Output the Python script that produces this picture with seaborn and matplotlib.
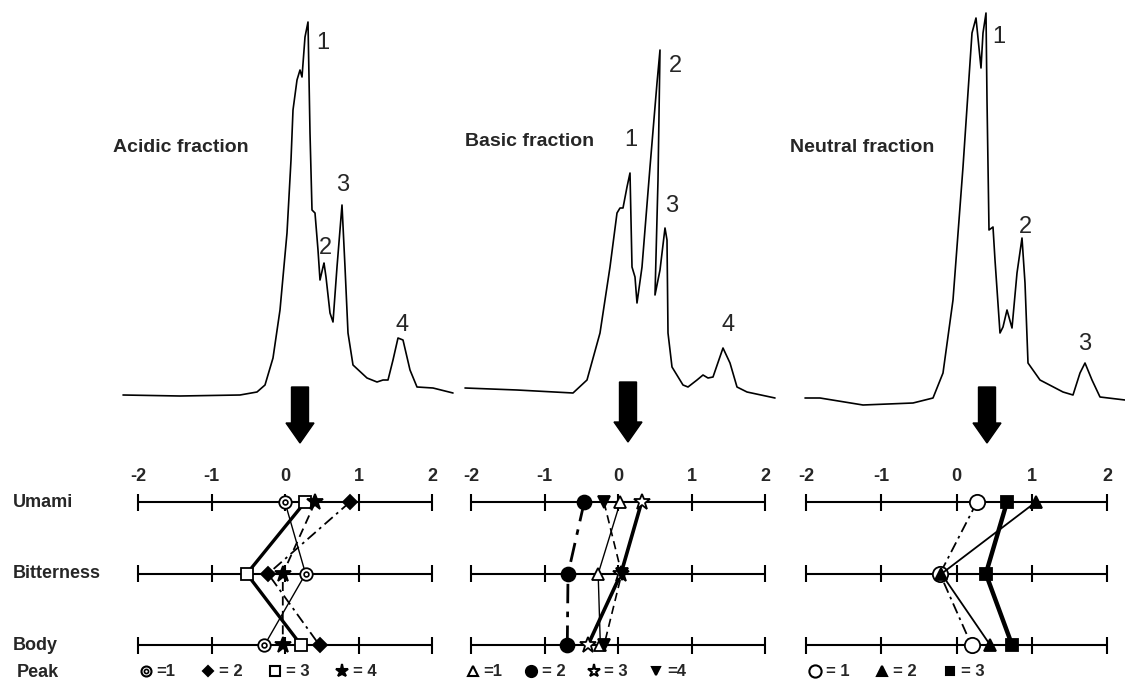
import numpy as np
import pandas as pd
import seaborn as sns
import matplotlib.pyplot as plt
import matplotlib.transforms as mtransforms
from matplotlib.lines import Line2D
from matplotlib.patches import FancyArrow
from matplotlib.legend_handler import HandlerTuple

sns.set_theme(style='white')
plt.rcParams['font.family'] = ['Liberation Sans', 'DejaVu Sans']

W, H = 1125, 681

# chromatogram traces: elution position (arb.) vs detector response (arb.)
acidic_t = [3, 60, 120, 137, 145, 153, 160, 167, 171, 173, 177, 180, 182, 185, 188, 190, 192, 195,
            198, 200, 203, 204, 206, 210, 213, 217, 222, 225, 228, 233, 247, 257, 263, 268, 273, 278,
            283, 290, 297, 313, 333]
acidic_a = [5, 4, 5, 8, 15, 42, 90, 167, 240, 290, 320, 330, 323, 363, 378, 267, 190, 187,
            150, 120, 133, 137, 123, 87, 78, 133, 195, 133, 67, 35, 22, 18, 20, 20, 40, 62,
            60, 30, 13, 12, 7]

basic_t = [5, 57, 113, 127, 140, 150, 157, 160, 163, 167, 170, 172, 175, 177, 182, 190, 197, 200,
           198, 195, 200, 205, 207, 208, 212, 223, 228, 237, 243, 248, 253, 263, 270, 277, 287, 315]
basic_a = [12, 10, 7, 20, 67, 133, 187, 192, 192, 213, 227, 133, 123, 97, 133, 233, 317, 350,
           220, 105, 130, 172, 160, 67, 33, 15, 13, 20, 25, 22, 23, 52, 37, 13, 8, 2]

neutral_t = [10, 25, 68, 118, 138, 148, 158, 168, 177, 181, 186, 188, 191, 192, 194, 198, 200, 205,
             208, 212, 217, 222, 227, 230, 233, 245, 268, 278, 285, 290, 297, 305, 330]
neutral_a = [2, 2, -5, -3, 2, 27, 100, 233, 367, 382, 332, 367, 387, 300, 170, 173, 140, 67,
             73, 90, 72, 127, 162, 117, 37, 20, 8, 5, 27, 37, 20, 3, 0]

acidic_peaks = ['1', '2', '3', '4']
acidic_label_t = [203, 205, 223, 282]
acidic_label_a = [357, 152, 215, 75]
basic_peaks = ['1', '2', '3', '4']
basic_label_t = [171, 215, 212, 268]
basic_label_a = [260, 334, 194, 75]
neutral_peaks = ['1', '2', '3']
neutral_label_t = [204, 230, 290]
neutral_label_a = [363, 173, 56]

# sensory scores per peak (rows: Umami, Bitterness, Body)
attributes = ['Umami', 'Bitterness', 'Body']
acidic_scores = {
    '1': [0.0, 0.28, -0.28],
    '2': [0.88, -0.23, 0.47],
    '3': [0.27, -0.52, 0.22],
    '4': [0.41, -0.03, -0.03],
}
basic_scores = {
    '1': [0.03, -0.27, -0.24],
    '2': [-0.46, -0.68, -0.69],
    '3': [0.32, 0.04, -0.41],
    '4': [-0.19, 0.05, -0.19],
}
neutral_scores = {
    '1': [0.27, -0.22, 0.2],
    '2': [1.05, -0.2, 0.45],
    '3': [0.67, 0.39, 0.74],
}
score_ticks = [-2, -1, 0, 1, 2]

# styles: marker, size, facecolor, linestyle, linewidth
acidic_style = {
    '1': dict(marker='o', ms=9, mfc='white', ls='-', lw=1.0),
    '2': dict(marker='D', ms=7, mfc='black', ls=(0, (6, 2.5, 1.5, 2.5)), lw=1.3),
    '3': dict(marker='s', ms=9, mfc='white', ls='-', lw=2.4),
    '4': dict(marker='*', ms=12, mfc='black', ls=(0, (5, 3)), lw=1.3),
}
basic_style = {
    '1': dict(marker='^', ms=9, mfc='white', ls='-', lw=1.0),
    '2': dict(marker='o', ms=10, mfc='black', ls=(0, (7, 3, 2, 3)), lw=2.0),
    '3': dict(marker='*', ms=12, mfc='white', ls='-', lw=2.6),
    '4': dict(marker='v', ms=8, mfc='black', ls=(0, (5, 3)), lw=1.2),
}
neutral_style = {
    '1': dict(marker='o', ms=11, mfc='white', ls=(0, (6, 2.5, 1.5, 2.5)), lw=1.3),
    '2': dict(marker='^', ms=9, mfc='black', ls='-', lw=1.3),
    '3': dict(marker='s', ms=8, mfc='black', ls='-', lw=3.2),
}
acidic_legend = ['=1', '= 2', '= 3', '= 4']
basic_legend = ['=1', '= 2', '= 3', '=4']
neutral_legend = ['= 1', '= 2', '= 3']

fig = plt.figure(figsize=(W / 100, H / 100), dpi=100)


def px_axes(left, top, width, height):
    return fig.add_axes([left / W, 1 - (top + height) / H, width / W, height / H])


def chromatogram(left, width, t, a, name, name_t, name_a, peaks, lt, la):
    ax = px_axes(left, 0, width, 410)
    sns.lineplot(x=t, y=a, sort=False, estimator=None, color='black', lw=1.2, ax=ax)
    ax.set_xlim(0, width)
    ax.set_ylim(-10, 400)
    ax.axis('off')
    ax.text(name_t, name_a, name, fontsize=14, fontweight='bold', ha='left', va='center')
    for p, x, y in zip(peaks, lt, la):
        ax.text(x, y, p, fontsize=17, ha='center', va='center')
    return ax


def arrow(xc, top, tip):
    fig.patches.append(FancyArrow(xc / W, 1 - top / H, 0, -(tip - top - 20) / H,
                                  width=17 / W, head_width=28 / W, head_length=20 / H,
                                  length_includes_head=False, color='black',
                                  transform=fig.transFigure))


def profile(x_m2, x_p2, scores, styles):
    unit = (x_p2 - x_m2) / 4
    ax = px_axes(x_m2 - 0.3 * unit, 488, 4.6 * unit, 193)
    ax.set_xlim(-2.3, 2.3)
    ax.set_ylim(2.5, -0.2)
    for r in range(len(attributes)):
        ax.hlines(r, -2, 2, color='black', lw=1.5, zorder=1)
        ax.vlines(score_ticks, r - 0.12, r + 0.12, color='black', lw=1.5, zorder=1)
    rows = []
    for p, vals in scores.items():
        for i, v in enumerate(vals):
            rows.append(dict(peak=p, row=i, score=v))
    df = pd.DataFrame(rows)
    handles = []
    for k, (p, st) in enumerate(styles.items()):
        sub = df[df['peak'] == p]
        sns.lineplot(data=sub, x='score', y='row', sort=False, estimator=None, color='black',
                     marker=st['marker'], markersize=st['ms'], markerfacecolor=st['mfc'],
                     markeredgecolor='black', markeredgewidth=1.3, linestyle=st['ls'],
                     linewidth=st['lw'], zorder=3 + k, ax=ax)
        h = Line2D([], [], ls='none', marker=st['marker'], ms=st['ms'] * 0.8, mfc=st['mfc'],
                   mec='black', mew=1.5)
        handles.append(h)
    ax.set_xlabel('')
    ax.set_ylabel('')
    ax.set_xticks(score_ticks)
    ax.set_xticklabels([str(v) for v in score_ticks], fontsize=13, fontweight='bold')
    ax.set_yticks([])
    ax.tick_params(axis='x', top=True, bottom=False, labeltop=True, labelbottom=False,
                   length=0, pad=2)
    for s in ax.spines.values():
        s.set_visible(False)
    ax.patch.set_alpha(0)
    return ax, handles


chromatogram(120, 340, acidic_t, acidic_a, 'Acidic fraction', -7, 253,
             acidic_peaks, acidic_label_t, acidic_label_a)
chromatogram(460, 320, basic_t, basic_a, 'Basic fraction', 5, 258,
             basic_peaks, basic_label_t, basic_label_a)
chromatogram(795, 330, neutral_t, neutral_a, 'Neutral fraction', -5, 253,
             neutral_peaks, neutral_label_t, neutral_label_a)

arrow(300, 387, 443)
arrow(628, 382, 442)
arrow(987, 387, 443)

ax1, h1 = profile(138, 432, acidic_scores, acidic_style)
ax2, h2 = profile(471, 765, basic_scores, basic_style)
ax3, h3 = profile(806, 1107, neutral_scores, neutral_style)

# acidic peak 1 drawn as double circle
sns.scatterplot(x=acidic_scores['1'], y=[0, 1, 2], marker='o', s=12, facecolor='white',
                edgecolor='black', linewidth=1.2, zorder=10, ax=ax1)
h1[0] = (h1[0], Line2D([], [], ls='none', marker='o', ms=3, mfc='white', mec='black', mew=1.2))

for ax, handles, labels, left, gap in [(ax1, h1, acidic_legend, 139, 1.55),
                                       (ax2, h2, basic_legend, 466, 1.3),
                                       (ax3, h3, neutral_legend, 808, 1.6)]:
    ax.legend(handles, labels, ncol=len(labels), loc='center left',
              bbox_to_anchor=(left / W, 1 - 672 / H), bbox_transform=fig.transFigure,
              frameon=False, handlelength=0.8, handletextpad=0.25, columnspacing=gap,
              borderpad=0, borderaxespad=0, prop=dict(weight='bold', size=12),
              handler_map={tuple: HandlerTuple(ndivide=1, pad=0)})

blend = mtransforms.blended_transform_factory(fig.transFigure, ax1.transData)
for i, name in enumerate(attributes):
    ax1.text(13 / W, i, name, transform=blend, fontsize=13, fontweight='bold',
             ha='left', va='center')
ax1.text(17 / W, 2.38, 'Peak', transform=blend, fontsize=13, fontweight='bold',
         ha='left', va='center')

plt.savefig('out.png', dpi=100)
plt.close()
